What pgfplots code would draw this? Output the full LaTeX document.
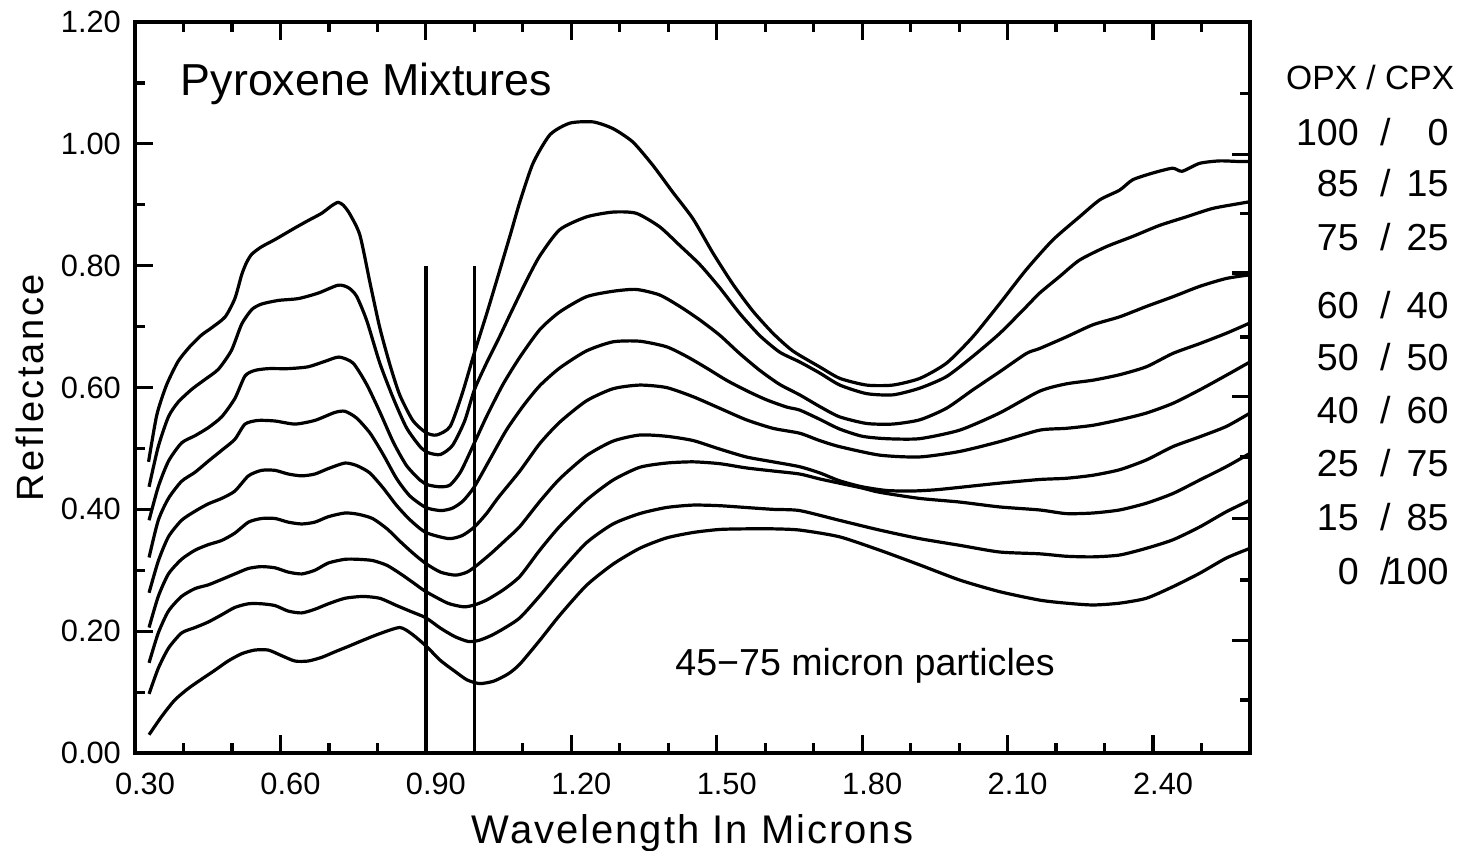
\documentclass[border=0pt]{standalone}
\usepackage{fontspec}
\setmainfont{Liberation Sans}
\usepackage{pgfplots}
\pgfplotsset{compat=1.18}
\newcommand{\legrow}[3]{%
  \node[anchor=base east, inner sep=0pt, font=\fontsize{9.4}{11}\selectfont] at (axis cs:2.826,#3) {#1};
  \node[anchor=base, inner sep=0pt, font=\fontsize{9.4}{11}\selectfont] at (axis cs:2.879,#3) {/};
  \node[anchor=base east, inner sep=0pt, font=\fontsize{9.4}{11}\selectfont] at (axis cs:3.011,#3) {#2};
}
\begin{document}
\begin{tikzpicture}
\path[use as bounding box] (-33.75pt,-24.25pt) rectangle (332.75pt,188.25pt);
\begin{axis}[
  at={(0pt,0pt)}, anchor=south west,
  scale only axis, width=278.75pt, height=182.75pt,
  xmin=0.3, xmax=2.6, ymin=0, ymax=1.2,
  clip=false,
  xtick={0.3,0.6,0.9,1.2,1.5,1.8,2.1,2.4},
  minor xtick={0.4,0.5,0.7,0.8,1.0,1.1,1.3,1.4,1.6,1.7,1.9,2.0,2.2,2.3,2.5},
  ytick={0,0.2,0.4,0.6,0.8,1.0,1.2},
  minor ytick={0.1,0.3,0.5,0.7,0.9,1.1},
  ytick pos=left,
  major tick length=4.5pt, minor tick length=2.5pt,
  tick align=inside,
  axis line style={line width=0.9pt},
  every tick/.style={black, line width=0.8pt},
  xticklabel={\pgfmathprintnumber[fixed,fixed zerofill,precision=2,assume math mode=true]{\tick}},
  yticklabel={\pgfmathprintnumber[fixed,fixed zerofill,precision=2,assume math mode=true]{\tick}},
  xticklabel style={font=\fontsize{7.7}{9}\selectfont, xshift=2.5pt, yshift=-1.5pt},
  yticklabel style={font=\fontsize{7.7}{9}\selectfont},
  xlabel={Wavelength In Microns},
  xlabel style={at={(axis description cs:0.5,0)}, anchor=base, yshift=-22.5pt,
    font=\fontsize{10}{12}\selectfont\addfontfeatures{LetterSpace=5}},
  ylabel={Reflectance},
  ylabel style={at={(axis description cs:-0.094,0.5)}, anchor=center,
    font=\fontsize{9.5}{11}\selectfont\addfontfeatures{LetterSpace=7}},
  cycle list={{black, solid, line width=0.8pt}},
  every axis plot/.append style={black, solid, line width=0.8pt, no markers, smooth, tension=0.4},
]
% 100/0
\addplot coordinates {(0.328,0.478) (0.345,0.555) (0.365,0.604) (0.389,0.643) (0.413,0.667) (0.437,0.686) (0.458,0.698) (0.486,0.716) (0.506,0.746) (0.520,0.785) (0.530,0.805) (0.541,0.819) (0.561,0.831) (0.589,0.843) (0.630,0.862) (0.657,0.874) (0.685,0.886) (0.705,0.898) (0.719,0.904) (0.730,0.899) (0.743,0.885) (0.764,0.850) (0.785,0.771) (0.805,0.698) (0.826,0.637) (0.846,0.588) (0.873,0.546) (0.900,0.526) (0.922,0.522) (0.950,0.536) (0.975,0.590) (1.000,0.657) (1.025,0.720) (1.050,0.786) (1.075,0.853) (1.094,0.905) (1.121,0.968) (1.156,1.015) (1.197,1.034) (1.245,1.036) (1.286,1.025) (1.327,1.003) (1.368,0.965) (1.409,0.921) (1.451,0.877) (1.492,0.821) (1.533,0.770) (1.574,0.726) (1.616,0.689) (1.657,0.660) (1.712,0.634) (1.754,0.615) (1.809,0.604) (1.863,0.604) (1.919,0.615) (1.974,0.640) (2.028,0.683) (2.084,0.738) (2.138,0.793) (2.193,0.842) (2.248,0.880) (2.290,0.908) (2.331,0.924) (2.358,0.941) (2.399,0.952) (2.440,0.960) (2.460,0.955) (2.496,0.968) (2.537,0.972) (2.578,0.971) (2.600,0.971)};
% 85/15
\addplot coordinates {(0.329,0.437) (0.348,0.503) (0.369,0.552) (0.389,0.576) (0.417,0.597) (0.444,0.613) (0.472,0.630) (0.499,0.661) (0.520,0.704) (0.541,0.728) (0.561,0.737) (0.596,0.743) (0.637,0.746) (0.678,0.755) (0.719,0.768) (0.740,0.764) (0.757,0.750) (0.778,0.710) (0.805,0.640) (0.833,0.582) (0.860,0.534) (0.888,0.503) (0.905,0.493) (0.930,0.490) (0.955,0.505) (0.980,0.545) (1.000,0.596) (1.025,0.640) (1.050,0.680) (1.075,0.722) (1.108,0.776) (1.135,0.816) (1.176,0.859) (1.231,0.880) (1.286,0.888) (1.334,0.886) (1.382,0.864) (1.424,0.833) (1.465,0.802) (1.506,0.764) (1.547,0.722) (1.589,0.685) (1.630,0.658) (1.671,0.642) (1.712,0.624) (1.754,0.604) (1.809,0.590) (1.864,0.588) (1.919,0.599) (1.974,0.618) (2.028,0.651) (2.084,0.689) (2.139,0.733) (2.166,0.755) (2.207,0.782) (2.248,0.809) (2.303,0.831) (2.358,0.848) (2.413,0.866) (2.468,0.880) (2.523,0.894) (2.578,0.902) (2.600,0.905)};
% 75/25
\addplot coordinates {(0.329,0.382) (0.348,0.437) (0.369,0.479) (0.396,0.509) (0.424,0.521) (0.451,0.534) (0.479,0.552) (0.506,0.582) (0.527,0.619) (0.547,0.628) (0.575,0.631) (0.616,0.631) (0.657,0.634) (0.692,0.643) (0.721,0.650) (0.750,0.640) (0.778,0.605) (0.805,0.560) (0.833,0.510) (0.860,0.472) (0.888,0.448) (0.905,0.440) (0.930,0.437) (0.950,0.440) (0.972,0.462) (1.000,0.509) (1.025,0.552) (1.059,0.605) (1.094,0.650) (1.135,0.695) (1.176,0.724) (1.231,0.749) (1.286,0.758) (1.334,0.761) (1.382,0.752) (1.424,0.733) (1.465,0.711) (1.506,0.686) (1.547,0.656) (1.589,0.628) (1.630,0.605) (1.671,0.588) (1.712,0.569) (1.753,0.552) (1.809,0.541) (1.863,0.540) (1.919,0.547) (1.974,0.566) (2.028,0.596) (2.084,0.626) (2.139,0.656) (2.166,0.664) (2.221,0.683) (2.276,0.703) (2.331,0.716) (2.386,0.733) (2.441,0.749) (2.496,0.766) (2.551,0.779) (2.600,0.785)};
% 60/40
\addplot coordinates {(0.329,0.321) (0.348,0.382) (0.369,0.418) (0.396,0.446) (0.424,0.461) (0.451,0.479) (0.479,0.497) (0.506,0.515) (0.527,0.540) (0.554,0.546) (0.589,0.545) (0.630,0.540) (0.671,0.546) (0.712,0.559) (0.733,0.561) (0.757,0.550) (0.785,0.525) (0.812,0.490) (0.840,0.450) (0.867,0.422) (0.900,0.403) (0.931,0.398) (0.955,0.402) (0.977,0.414) (1.000,0.437) (1.032,0.482) (1.066,0.530) (1.101,0.570) (1.135,0.603) (1.176,0.632) (1.231,0.660) (1.286,0.675) (1.341,0.676) (1.396,0.667) (1.438,0.651) (1.479,0.632) (1.520,0.612) (1.561,0.595) (1.602,0.580) (1.644,0.568) (1.671,0.563) (1.712,0.548) (1.753,0.532) (1.800,0.520) (1.850,0.516) (1.918,0.516) (2.001,0.530) (2.083,0.558) (2.166,0.594) (2.221,0.606) (2.276,0.612) (2.331,0.621) (2.386,0.634) (2.441,0.656) (2.496,0.672) (2.551,0.689) (2.600,0.706)};
% 50/50
\addplot coordinates {(0.329,0.263) (0.348,0.315) (0.369,0.355) (0.396,0.382) (0.424,0.397) (0.451,0.409) (0.479,0.418) (0.506,0.430) (0.534,0.455) (0.561,0.464) (0.589,0.464) (0.616,0.458) (0.644,0.455) (0.671,0.458) (0.699,0.467) (0.733,0.476) (0.757,0.472) (0.784,0.460) (0.812,0.435) (0.839,0.407) (0.867,0.383) (0.900,0.362) (0.947,0.352) (0.975,0.357) (1.000,0.371) (1.025,0.393) (1.050,0.420) (1.094,0.463) (1.135,0.508) (1.176,0.543) (1.231,0.578) (1.286,0.598) (1.341,0.604) (1.396,0.600) (1.451,0.585) (1.506,0.566) (1.561,0.547) (1.616,0.533) (1.671,0.525) (1.712,0.513) (1.753,0.503) (1.836,0.489) (1.918,0.486) (2.001,0.495) (2.083,0.511) (2.166,0.530) (2.221,0.533) (2.276,0.538) (2.331,0.547) (2.386,0.558) (2.441,0.574) (2.496,0.596) (2.551,0.620) (2.600,0.642)};
% 40/60
\addplot coordinates {(0.329,0.206) (0.348,0.257) (0.369,0.294) (0.396,0.318) (0.424,0.333) (0.451,0.342) (0.479,0.349) (0.506,0.361) (0.534,0.379) (0.561,0.385) (0.589,0.385) (0.616,0.379) (0.644,0.376) (0.671,0.379) (0.699,0.388) (0.733,0.394) (0.760,0.392) (0.790,0.385) (0.820,0.368) (0.850,0.345) (0.875,0.327) (0.900,0.311) (0.930,0.297) (0.961,0.292) (0.985,0.297) (1.005,0.308) (1.035,0.328) (1.065,0.350) (1.094,0.372) (1.135,0.413) (1.176,0.450) (1.231,0.488) (1.286,0.512) (1.341,0.522) (1.396,0.520) (1.451,0.513) (1.506,0.499) (1.561,0.486) (1.616,0.478) (1.671,0.470) (1.712,0.460) (1.753,0.447) (1.800,0.437) (1.850,0.431) (1.900,0.430) (1.950,0.432) (2.000,0.436) (2.083,0.443) (2.166,0.449) (2.221,0.451) (2.276,0.456) (2.331,0.465) (2.386,0.481) (2.441,0.503) (2.496,0.519) (2.551,0.536) (2.600,0.558)};
% 25/75
\addplot coordinates {(0.329,0.148) (0.348,0.197) (0.369,0.233) (0.396,0.257) (0.424,0.270) (0.451,0.276) (0.479,0.285) (0.506,0.294) (0.534,0.303) (0.561,0.306) (0.589,0.304) (0.616,0.297) (0.644,0.294) (0.671,0.300) (0.699,0.312) (0.733,0.318) (0.760,0.318) (0.790,0.316) (0.820,0.308) (0.850,0.293) (0.875,0.279) (0.900,0.265) (0.945,0.246) (0.978,0.240) (1.000,0.243) (1.025,0.251) (1.060,0.268) (1.094,0.290) (1.135,0.333) (1.176,0.372) (1.231,0.415) (1.286,0.448) (1.341,0.469) (1.396,0.476) (1.451,0.478) (1.506,0.475) (1.561,0.468) (1.616,0.463) (1.671,0.458) (1.712,0.450) (1.753,0.443) (1.800,0.435) (1.836,0.428) (1.918,0.418) (2.001,0.412) (2.083,0.404) (2.166,0.399) (2.221,0.393) (2.276,0.394) (2.331,0.399) (2.386,0.410) (2.441,0.426) (2.496,0.448) (2.551,0.470) (2.600,0.492)};
% 15/85
\addplot coordinates {(0.329,0.097) (0.348,0.139) (0.369,0.172) (0.396,0.197) (0.424,0.206) (0.451,0.215) (0.479,0.227) (0.506,0.239) (0.534,0.245) (0.561,0.245) (0.589,0.242) (0.616,0.233) (0.644,0.230) (0.671,0.236) (0.699,0.245) (0.733,0.254) (0.770,0.257) (0.805,0.254) (0.840,0.242) (0.870,0.232) (0.900,0.222) (0.930,0.205) (0.960,0.191) (0.988,0.183) (1.010,0.185) (1.035,0.193) (1.060,0.204) (1.094,0.222) (1.135,0.258) (1.176,0.297) (1.231,0.345) (1.286,0.376) (1.341,0.393) (1.396,0.403) (1.451,0.407) (1.506,0.406) (1.561,0.403) (1.616,0.400) (1.671,0.398) (1.753,0.382) (1.836,0.366) (1.918,0.352) (2.001,0.341) (2.083,0.330) (2.166,0.327) (2.221,0.323) (2.276,0.322) (2.331,0.325) (2.386,0.336) (2.441,0.350) (2.496,0.371) (2.551,0.396) (2.600,0.415)};
% 0/100
\addplot coordinates {(0.329,0.030) (0.355,0.060) (0.382,0.087) (0.410,0.106) (0.437,0.121) (0.465,0.136) (0.492,0.151) (0.520,0.163) (0.547,0.169) (0.575,0.169) (0.602,0.160) (0.630,0.151) (0.657,0.151) (0.685,0.157) (0.712,0.166) (0.740,0.175) (0.770,0.185) (0.805,0.196) (0.846,0.206) (0.870,0.196) (0.900,0.176) (0.930,0.152) (0.960,0.134) (0.985,0.120) (1.011,0.114) (1.040,0.118) (1.070,0.130) (1.094,0.146) (1.135,0.185) (1.176,0.226) (1.231,0.275) (1.286,0.310) (1.341,0.336) (1.396,0.353) (1.451,0.362) (1.506,0.367) (1.561,0.368) (1.616,0.368) (1.671,0.366) (1.753,0.355) (1.836,0.333) (1.918,0.309) (2.001,0.284) (2.083,0.265) (2.166,0.251) (2.221,0.246) (2.276,0.243) (2.331,0.246) (2.386,0.254) (2.441,0.273) (2.496,0.295) (2.551,0.320) (2.600,0.336)};
% vertical markers
\addplot[black, line width=0.9pt, sharp plot] coordinates {(0.90,0) (0.90,0.80)};
\addplot[black, line width=0.9pt, sharp plot] coordinates {(1.00,0) (1.00,0.80)};
% text
\node[anchor=base west, inner sep=0pt, font=\fontsize{11.2}{13}\selectfont] at (axis cs:0.393,1.080) {Pyroxene Mixtures};
\node[anchor=base west, inner sep=0pt, font=\fontsize{9.4}{11}\selectfont] at (axis cs:1.413,0.128) {45−75 micron particles};
\node[anchor=base, inner sep=0pt, font=\fontsize{8.4}{10}\selectfont] at (axis cs:2.848,1.090) {OPX / CPX};
\legrow{100}{0}{0.9973}
\legrow{85}{15}{0.9135}
\legrow{75}{25}{0.8249}
\legrow{60}{40}{0.7133}
\legrow{50}{50}{0.6279}
\legrow{40}{60}{0.5409}
\legrow{25}{75}{0.4539}
\legrow{15}{85}{0.3653}
\legrow{0}{100}{0.2766}
\end{axis}
% right-hand ticks (offset as in the original plot)
\begin{axis}[
  at={(0pt,0pt)}, anchor=south west,
  scale only axis, width=278.75pt, height=182.75pt,
  xmin=0.3, xmax=2.6, ymin=0, ymax=1.2,
  hide x axis, axis y line*=right,
  ytick={0.185,0.385,0.585,0.788,0.982},
  minor ytick={0.087,0.284,0.486,0.683,0.886,1.083},
  yticklabels={},
  major tick length=4.5pt, minor tick length=2.5pt,
  tick align=inside,
  axis line style={line width=0.9pt, -},
  every tick/.style={black, line width=0.8pt},
]
\end{axis}
\end{tikzpicture}
\end{document}
